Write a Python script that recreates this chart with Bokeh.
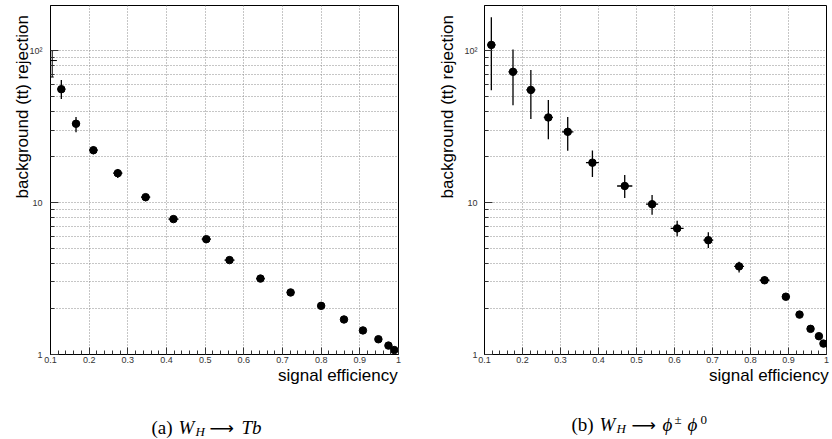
from bokeh.plotting import figure
from bokeh.models import Range1d, FixedTicker, ColumnDataSource
from bokeh.layouts import column, row
from bokeh.embed import file_html
from bokeh.resources import INLINE
from bokeh.core.properties import value

# ---------------- data ----------------
X_TICKS = [0.1, 0.2, 0.3, 0.4, 0.5, 0.6, 0.7, 0.8, 0.9, 1.0]
X_MINOR = [round(0.1 + 0.02 * i, 2) for i in range(46)]
X_TICK_LABELS = {1.0: "1"}
Y_TICKS = [1, 10, 100]
Y_MINOR = [2, 3, 4, 5, 6, 7, 8, 9, 20, 30, 40, 50, 60, 70, 80, 90]
Y_TICK_LABELS = {1: "1", 10: "10", 100: "10²"}
X_LABEL = "signal efficiency"
Y_LABEL = "background (tt) rejection"

# panel (a)  W_H -> T b
a_eff = [0.128, 0.166, 0.211, 0.274, 0.346, 0.418, 0.503, 0.563, 0.643, 0.721,
         0.800, 0.859, 0.908, 0.948, 0.974, 0.989]
a_rej = [55.7, 33.0, 22.1, 15.6, 10.85, 7.78, 5.74, 4.18, 3.16, 2.56,
         2.09, 1.70, 1.44, 1.26, 1.145, 1.07]
a_lo = [48.0, 29.0, 20.8, 14.5, 10.2, 7.45, 5.55, 4.06, 3.08, 2.50,
        2.05, 1.67, 1.42, 1.245, 1.135, 1.063]
a_hi = [64.0, 36.5, 23.4, 16.6, 11.4, 8.1, 5.93, 4.30, 3.24, 2.62,
        2.13, 1.73, 1.46, 1.275, 1.155, 1.077]
a_xerr = [0.010, 0.010, 0.011, 0.012, 0.012, 0.013, 0.012, 0.013, 0.011, 0.010,
          0.009, 0.008, 0.007, 0.006, 0.005, 0.004]
# partially clipped point at the left edge of panel (a)
a_edge_eff = [0.1045]
a_edge_rej = [86.0]
a_edge_lo = [67.0]
a_edge_hi = [100.0]

# panel (b)  W_H -> phi+- phi0
b_eff = [0.118, 0.175, 0.222, 0.268, 0.319, 0.384, 0.469, 0.541, 0.607, 0.689,
         0.770, 0.837, 0.893, 0.929, 0.958, 0.980, 0.992]
b_rej = [109.0, 72.5, 55.1, 36.3, 29.2, 18.3, 12.85, 9.75, 6.76, 5.65,
         3.80, 3.08, 2.40, 1.83, 1.475, 1.32, 1.18]
b_lo = [54.8, 43.7, 35.4, 26.1, 21.9, 14.7, 10.7, 8.3, 6.0, 5.02,
        3.47, 2.92, 2.29, 1.78, 1.45, 1.30, 1.165]
b_hi = [166.0, 101.5, 74.4, 47.3, 36.5, 22.0, 15.2, 11.2, 7.6, 6.37,
        4.07, 3.27, 2.52, 1.88, 1.50, 1.34, 1.195]
b_xerr = [0.011, 0.012, 0.012, 0.012, 0.015, 0.017, 0.020, 0.016, 0.017, 0.013,
          0.013, 0.013, 0.010, 0.008, 0.007, 0.006, 0.005]

SANS = "Liberation Sans"
SERIF = "Liberation Serif"
GRID = "#8c8c8c"
NBSP = "\u00a0"


def make_panel(eff, rej, lo, hi, xerr, width, mb_left, mb_right, mb_top, mb_bottom,
               ylab_standoff, ytick_standoff):
    p = figure(width=width, height=395, output_backend="svg", toolbar_location=None,
               y_axis_type="log", x_range=Range1d(0.1, 1.0), y_range=Range1d(1, 198),
               min_border_left=mb_left, min_border_right=mb_right,
               min_border_top=mb_top, min_border_bottom=mb_bottom)
    p.background_fill_color = "white"
    p.border_fill_color = "white"
    p.outline_line_color = "black"
    p.outline_line_width = 1

    xa = p.xaxis[0]
    xa.ticker = FixedTicker(ticks=X_TICKS, minor_ticks=X_MINOR)
    xa.major_label_overrides = X_TICK_LABELS
    # label pushed to the right end of the axis (centred label, padded on the left)
    xa.axis_label = NBSP * 48 + X_LABEL
    xa.axis_label_text_font = SANS
    xa.axis_label_text_font_style = "normal"
    xa.axis_label_text_font_size = "17px"
    xa.axis_label_text_color = "black"
    xa.axis_label_standoff = 0
    xa.major_label_text_font = SANS
    xa.major_label_text_font_size = "9px"
    xa.major_label_text_color = "#333333"
    xa.major_label_standoff = 2
    xa.major_tick_in = 7
    xa.major_tick_out = 0
    xa.minor_tick_in = 4
    xa.minor_tick_out = 0
    xa.axis_line_color = "black"
    xa.major_tick_line_color = "#333333"
    xa.minor_tick_line_color = "#333333"

    ya = p.yaxis[0]
    ya.ticker = FixedTicker(ticks=Y_TICKS, minor_ticks=Y_MINOR)
    ya.major_label_overrides = Y_TICK_LABELS
    # label pushed toward the top end of the axis
    ya.axis_label = NBSP * 31 + Y_LABEL
    ya.axis_label_text_font = SANS
    ya.axis_label_text_font_style = "normal"
    ya.axis_label_text_font_size = "17px"
    ya.axis_label_text_color = "black"
    ya.axis_label_standoff = ylab_standoff
    ya.major_label_text_font = SANS
    ya.major_label_text_font_size = "9px"
    ya.major_label_text_color = "#333333"
    ya.major_label_standoff = ytick_standoff
    ya.major_tick_in = 8
    ya.major_tick_out = 0
    ya.minor_tick_in = 4
    ya.minor_tick_out = 0
    ya.axis_line_color = "black"
    ya.major_tick_line_color = "#333333"
    ya.minor_tick_line_color = "#333333"

    p.xgrid.grid_line_color = GRID
    p.xgrid.grid_line_dash = "1 2"
    p.xgrid.grid_line_width = 1
    p.ygrid.grid_line_color = GRID
    p.ygrid.grid_line_dash = "1 2"
    p.ygrid.grid_line_width = 1
    p.ygrid.minor_grid_line_color = GRID
    p.ygrid.minor_grid_line_dash = "1 2"
    p.ygrid.minor_grid_line_width = 1

    x0 = [e - d for e, d in zip(eff, xerr)]
    x1 = [e + d for e, d in zip(eff, xerr)]
    src = ColumnDataSource(dict(x=eff, y=rej, lo=lo, hi=hi, x0=x0, x1=x1))
    p.segment(x0="x", y0="lo", x1="x", y1="hi", source=src, line_color="black", line_width=1.3)
    p.segment(x0="x0", y0="y", x1="x1", y1="y", source=src, line_color="black", line_width=1.3)
    p.scatter(x="x", y="y", source=src, size=7.5, marker="circle",
              fill_color="black", line_color="black")
    return p


p1 = make_panel(a_eff, a_rej, a_lo, a_hi, a_xerr, 416, 50, 18, 5, 41, -6, 8)
edge = ColumnDataSource(dict(x=a_edge_eff, y=a_edge_rej, lo=a_edge_lo, hi=a_edge_hi,
                             x0=[0.1] * len(a_edge_eff),
                             x1=[e + 0.012 for e in a_edge_eff],
                             xc=[e + 0.004 for e in a_edge_eff]))
p1.segment(x0="x", y0="lo", x1="x", y1="hi", source=edge, line_color="black", line_width=1)
p1.segment(x0="x0", y0="y", x1="x1", y1="y", source=edge, line_color="black", line_width=1)
p1.segment(x0="x0", y0="lo", x1="xc", y1="lo", source=edge, line_color="black", line_width=1)
p1.segment(x0="x0", y0="hi", x1="xc", y1="hi", source=edge, line_color="black", line_width=1)

p2 = make_panel(b_eff, b_rej, b_lo, b_hi, b_xerr, 416, 68, 6, 4, 40, 4, 7)

# ---------------- captions ----------------
cap = figure(width=832, height=44, output_backend="svg", toolbar_location=None,
             x_range=Range1d(0, 832), y_range=Range1d(439, 395),
             x_axis_location=None, y_axis_location=None,
             min_border=0, min_border_left=0, min_border_right=0,
             min_border_top=0, min_border_bottom=0)
cap.grid.visible = False
cap.outline_line_color = None
cap.background_fill_color = "white"
cap.border_fill_color = "white"


def piece(x, y, s, size, style="normal", font=SERIF):
    cap.text(x=[x], y=[y], text=[s], text_font=value(font), text_font_size=size,
             text_font_style=style, text_color="black", text_align="left",
             text_baseline="alphabetic")


# (a) W_H -> T b
piece(151, 427, "(a)", "19px")
piece(178, 427, "W", "19px", "italic")
piece(195, 431, "H", "13px", "italic")
piece(209, 427, "⟶", "17px", "normal", "DejaVu Sans")
piece(241, 427, "Tb", "19px", "italic")

# (b) W_H -> phi+- phi0
piece(571, 424, "(b)", "19px")
piece(599, 424, "W", "19px", "italic")
piece(616, 428, "H", "13px", "italic")
piece(631, 424, "⟶", "17px", "normal", "DejaVu Sans")
piece(662, 424, "ϕ", "19px", "italic")
piece(674, 419, "±", "13px", "normal")
piece(687, 424, "ϕ", "19px", "italic")
piece(700, 419, "0", "13px", "normal")

layout = column(row(p1, p2), cap)
open("out.html", "w").write(file_html(layout, INLINE))
